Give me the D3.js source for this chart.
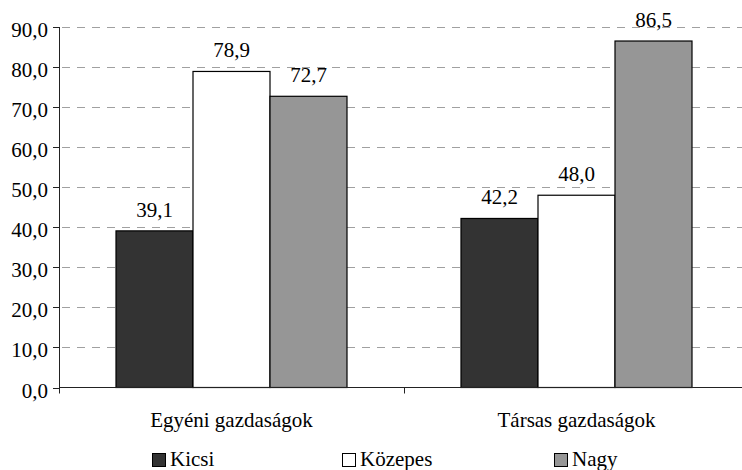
<!DOCTYPE html>
<meta charset="utf-8">
<style>
body { margin: 0; background: #fff; }
</style>
<script src="https://d3js.org/d3.v7.min.js"></script>
<svg width="742" height="470" font-family="Liberation Serif" font-size="21"></svg>
<script>

var categories = ["Egyéni gazdaságok", "Társas gazdaságok"];
var series = ["Kicsi", "Közepes", "Nagy"];
var values = {
  "Kicsi":   [39.1, 42.2],
  "Közepes": [78.9, 48.0],
  "Nagy":    [72.7, 86.5]
};
var yTicks = [0, 10, 20, 30, 40, 50, 60, 70, 80, 90];

var colors = { "Kicsi": "#333333", "Közepes": "#ffffff", "Nagy": "#969696" };

var svg = d3.select("svg");

var x = d3.scaleBand().domain(categories).range([59, 749]);
var xInner = d3.scaleBand().domain(series).range([57, x.bandwidth() - 57]);
var y = d3.scaleLinear().domain([0, 90]).range([387.5, 27]);

var fmt = function(d) { return d3.format(".1f")(d).replace(".", ","); };

// gridlines
svg.selectAll("line.grid")
  .data(yTicks.filter(function(d) { return d > 0; }))
  .enter().append("line")
    .attr("class", "grid")
    .attr("x1", 62)
    .attr("x2", 749)
    .attr("y1", function(d) { return Math.round(y(d)) + 0.5; })
    .attr("y2", function(d) { return Math.round(y(d)) + 0.5; })
    .attr("stroke", "#a0a0a0")
    .attr("stroke-dasharray", "8,7");

var rows = [];
categories.forEach(function(c, i) {
  series.forEach(function(s) { rows.push({ cat: c, s: s, v: values[s][i] }); });
});

// bars
svg.selectAll("rect.bar")
  .data(rows)
  .enter().append("rect")
    .attr("class", "bar")
    .attr("x", function(d) { return x(d.cat) + xInner(d.s); })
    .attr("y", function(d) { return y(d.v); })
    .attr("width", xInner.bandwidth())
    .attr("height", function(d) { return y(0) - y(d.v); })
    .attr("fill", function(d) { return colors[d.s]; })
    .attr("stroke", "#000")
    .attr("stroke-width", 1.2);

// y axis line and ticks
svg.append("line")
    .attr("x1", 59.5).attr("x2", 59.5)
    .attr("y1", y(90)).attr("y2", y(0) + 6)
    .attr("stroke", "#222");
svg.selectAll("line.ytick")
  .data(yTicks)
  .enter().append("line")
    .attr("class", "ytick")
    .attr("x1", 53).attr("x2", 59.5)
    .attr("y1", function(d) { return Math.round(y(d)) + 0.5; })
    .attr("y2", function(d) { return Math.round(y(d)) + 0.5; })
    .attr("stroke", "#222");

// x axis line and ticks
svg.append("line")
    .attr("x1", 59).attr("x2", 749)
    .attr("y1", y(0)).attr("y2", y(0))
    .attr("stroke", "#222");
svg.selectAll("line.xtick")
  .data(categories.slice(1))
  .enter().append("line")
    .attr("class", "xtick")
    .attr("x1", function(d) { return x(d) + 0.5; })
    .attr("x2", function(d) { return x(d) + 0.5; })
    .attr("y1", y(0))
    .attr("y2", y(0) + 6)
    .attr("stroke", "#222");

// legend swatches
var legendX = d3.scaleOrdinal().domain(series).range([152, 342, 554]);
svg.selectAll("rect.swatch")
  .data(series)
  .enter().append("rect")
    .attr("class", "swatch")
    .attr("x", function(d) { return legendX(d) + 0.5; })
    .attr("y", 453.5)
    .attr("width", 13).attr("height", 13)
    .attr("fill", function(d) { return colors[d]; })
    .attr("stroke", "#000")
    .attr("stroke-width", 1);

// texts
svg.selectAll("text.ylab")
  .data(yTicks)
  .enter().append("text")
    .attr("class", "ylab")
    .attr("x", 48)
    .attr("y", function(d) { return y(d) + 10; })
    .attr("text-anchor", "end")
    .attr("font-family", "Liberation Serif")
    .attr("font-size", 21)
    .text(fmt);

svg.selectAll("text.val")
  .data(rows)
  .enter().append("text")
    .attr("class", "val")
    .attr("x", function(d) { return x(d.cat) + xInner(d.s) + xInner.bandwidth() / 2; })
    .attr("y", function(d) { return y(d.v) - 14; })
    .attr("text-anchor", "middle")
    .attr("font-family", "Liberation Serif")
    .attr("font-size", 21)
    .text(function(d) { return fmt(d.v); });

svg.selectAll("text.cat")
  .data(categories)
  .enter().append("text")
    .attr("class", "cat")
    .attr("x", function(d) { return x(d) + x.bandwidth() / 2; })
    .attr("y", 427)
    .attr("text-anchor", "middle")
    .attr("font-family", "Liberation Serif")
    .attr("font-size", 21)
    .text(function(d) { return d; });

svg.selectAll("text.leg")
  .data(series)
  .enter().append("text")
    .attr("class", "leg")
    .attr("x", function(d) { return legendX(d) + 18; })
    .attr("y", 466)
    .attr("font-family", "Liberation Serif")
    .attr("font-size", 21)
    .text(function(d) { return d; });

</script>
